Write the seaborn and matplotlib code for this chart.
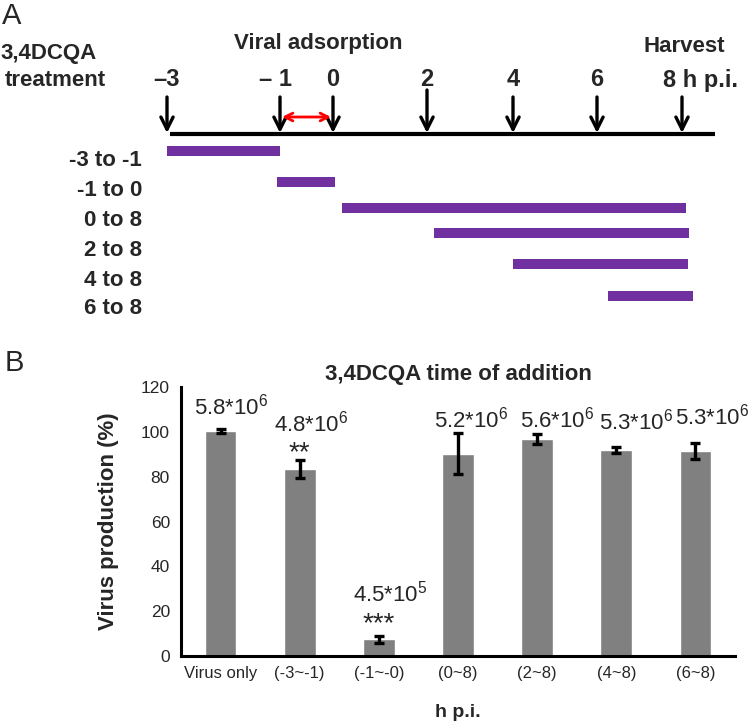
import numpy as np
import pandas as pd
import matplotlib
matplotlib.use("Agg")
import matplotlib.pyplot as plt
import seaborn as sns
from matplotlib import font_manager

# ----------------------------------------------------------------------------
# DATA
# ----------------------------------------------------------------------------
# Panel A: schedule of 3,4DCQA treatment
hours = [-3, -1, 0, 2, 4, 6, 8]
hour_labels = ["\u20133", "\u2013 1", "0", "2", "4", "6", "8 h p.i."]
hour_pos = [167, 280, 333, 427, 513, 597, 682]   # drawn positions of the schematic time axis
treat_labels = ["-3 to -1", "-1 to 0", "0 to 8", "2 to 8", "4 to 8", "6 to 8"]
treat_start = [-3, -1, 0, 2, 4, 6]
treat_end = [-1, 0, 8, 8, 8, 8]

# Panel B: virus production
groups = ["Virus only", "(-3~-1)", "(-1~-0)", "(0~8)", "(2~8)", "(4~8)", "(6~8)"]
production = [100.3, 83.4, 7.5, 90.3, 96.8, 92.0, 91.5]
prod_err = [0.8, 3.9, 1.5, 9.1, 2.1, 1.3, 3.4]
titer_labels = [r"5.8*10$^{6}$", r"4.8*10$^{6}$", r"4.5*10$^{5}$", r"5.2*10$^{6}$",
                r"5.6*10$^{6}$", r"5.3*10$^{6}$", r"5.3*10$^{6}$"]
stars = ["", "**", "***", "", "", "", ""]


# ----------------------------------------------------------------------------
# STYLE
# ----------------------------------------------------------------------------
def pick_font(names):
    for n in names:
        try:
            font_manager.findfont(n, fallback_to_default=False)
            return n
        except Exception:
            continue
    return "DejaVu Sans"


sns.set_style("white")
narrow = pick_font(["Liberation Sans Narrow", "Liberation Sans", "Arial"])
wide = pick_font(["Liberation Sans", "Arial", "DejaVu Sans"])
plt.rcParams["font.family"] = [narrow, "DejaVu Sans"]
plt.rcParams["mathtext.fontset"] = "custom"
plt.rcParams["mathtext.rm"] = narrow
plt.rcParams["mathtext.default"] = "regular"

fig = plt.figure(figsize=(7.5, 7.25), dpi=100)

# ----------------------------------------------------------------------------
# PANEL A: schematic
# ----------------------------------------------------------------------------
ax_a = fig.add_axes([0, 1 - 330 / 725, 1, 330 / 725])
ax_a.set_xlim(0, 750)
ax_a.set_ylim(330, 0)
ax_a.axis("off")

ax_a.text(2, 16, "A", fontsize=21, family=wide, va="center", ha="left")
ax_a.text(0, 53, "3,4DCQA", fontsize=16, fontweight="bold", va="center", ha="left")
ax_a.text(5, 80, "treatment", fontsize=16, fontweight="bold", va="center", ha="left")
ax_a.text(318, 43, "Viral adsorption", fontsize=16, fontweight="bold", va="center", ha="center")
ax_a.text(684, 46, "Harvest", fontsize=16, fontweight="bold", va="center", ha="center")

# time axis line
ax_a.plot([hour_pos[0] + 3, 715], [134, 134], color="black", lw=3, solid_capstyle="butt")
for h, p, lab in zip(hours, hour_pos, hour_labels):
    top = 90 if h == 2 else 97
    ax_a.annotate("", xy=(p, 133), xytext=(p, top),
                  arrowprops=dict(arrowstyle="->", lw=2.4, color="black",
                                  mutation_scale=22, shrinkA=0, shrinkB=0))
    if lab.startswith("8"):
        ax_a.text(p - 19, 80, lab, fontsize=17, fontweight="bold", va="center", ha="left")
    elif lab.startswith("\u2013 "):
        ax_a.text(p + 12, 80, lab, fontsize=17, fontweight="bold", va="center", ha="right")
    else:
        ax_a.text(p, 80, lab, fontsize=17, fontweight="bold", va="center", ha="center")

# adsorption double arrow (-1 to 0)
x_m1 = np.interp(-1, hours, hour_pos)
x_0 = np.interp(0, hours, hour_pos)
ax_a.annotate("", xy=(x_0 - 2, 117), xytext=(x_m1 + 2, 117),
              arrowprops=dict(arrowstyle="<->", lw=2, color="#FF0000",
                              mutation_scale=14, shrinkA=0, shrinkB=0))

# treatment windows (layout of the hand-drawn schematic)
row_y = [151, 182, 208, 233, 264, 296]
label_row_y = [160, 190, 220, 250, 280, 309]
start_pad = [0, -3, 9, 7, 0, 11]
end_pad = [0, 2, 4, 7, 6, 11]
starts = np.interp(treat_start, hours, hour_pos) + np.array(start_pad)
ends = np.interp(treat_end, hours, hour_pos) + np.array(end_pad)
ax_a.barh(row_y, ends - starts, left=starts, height=10, color="#7030A0", edgecolor="none")
for y, lab in zip(label_row_y, treat_labels):
    ax_a.text(142, y, lab, fontsize=16, fontweight="bold", va="center", ha="right")

# ----------------------------------------------------------------------------
# PANEL B: bar chart
# ----------------------------------------------------------------------------
df = pd.DataFrame({"group": groups, "production": production, "err": prod_err})

ax_b = fig.add_axes([181 / 750, 1 - 656 / 725, (735 - 181) / 750, (656 - 387) / 725])
sns.barplot(data=df, x="group", y="production", color="#808080", saturation=1,
            width=0.4, errorbar=None, ax=ax_b)
ax_b.errorbar(np.arange(len(groups)), df["production"], yerr=df["err"], fmt="none",
              ecolor="black", elinewidth=2.4, capsize=3.5, capthick=2.4)

ax_b.set_ylim(0, 120)
ax_b.set_xlim(-0.5, len(groups) - 0.5)
ax_b.set_yticks(np.arange(0, 121, 20))
ax_b.set_xticks(np.arange(-0.5, len(groups), 1.0))
ax_b.set_xticklabels([])
ax_b.set_xticks(np.arange(len(groups)), minor=True)
ax_b.set_xticklabels(groups, minor=True)
ax_b.tick_params(axis="x", which="major", direction="out", length=5, width=2, color="black")
ax_b.tick_params(axis="x", which="minor", length=0, labelsize=12, pad=7)
ax_b.tick_params(axis="y", direction="out", length=5, width=2, color="black",
                 labelsize=12.5, pad=3)
for s in ["top", "right"]:
    ax_b.spines[s].set_visible(False)
for s in ["left", "bottom"]:
    ax_b.spines[s].set_linewidth(2.2)
    ax_b.spines[s].set_color("black")

ax_b.set_xlabel("h p.i.", fontsize=14, fontweight="bold", family=wide, labelpad=17)
ax_b.set_ylabel("Virus production (%)", fontsize=16, fontweight="bold", family=wide, labelpad=16)
ax_b.set_title("3,4DCQA time of addition", fontsize=16, fontweight="bold", pad=5)

label_y = [111.5, 103.5, 28.0, 105.6, 105.6, 104.8, 107.0]
label_dx = [0.13, 0.14, 0.14, 0.17, 0.25, 0.25, 0.21]
star_y = [0, 90.5, 14.0, 0, 0, 0, 0]
for i in range(len(groups)):
    ax_b.text(i + label_dx[i], label_y[i], titer_labels[i], fontsize=16,
              ha="center", va="center")
    if stars[i]:
        ax_b.text(i, star_y[i], stars[i], fontsize=20, ha="center", va="center")

fig.text(5 / 750, 1 - 363 / 725, "B", fontsize=21, family=wide, va="center", ha="left")

fig.savefig("out.png", dpi=100)
